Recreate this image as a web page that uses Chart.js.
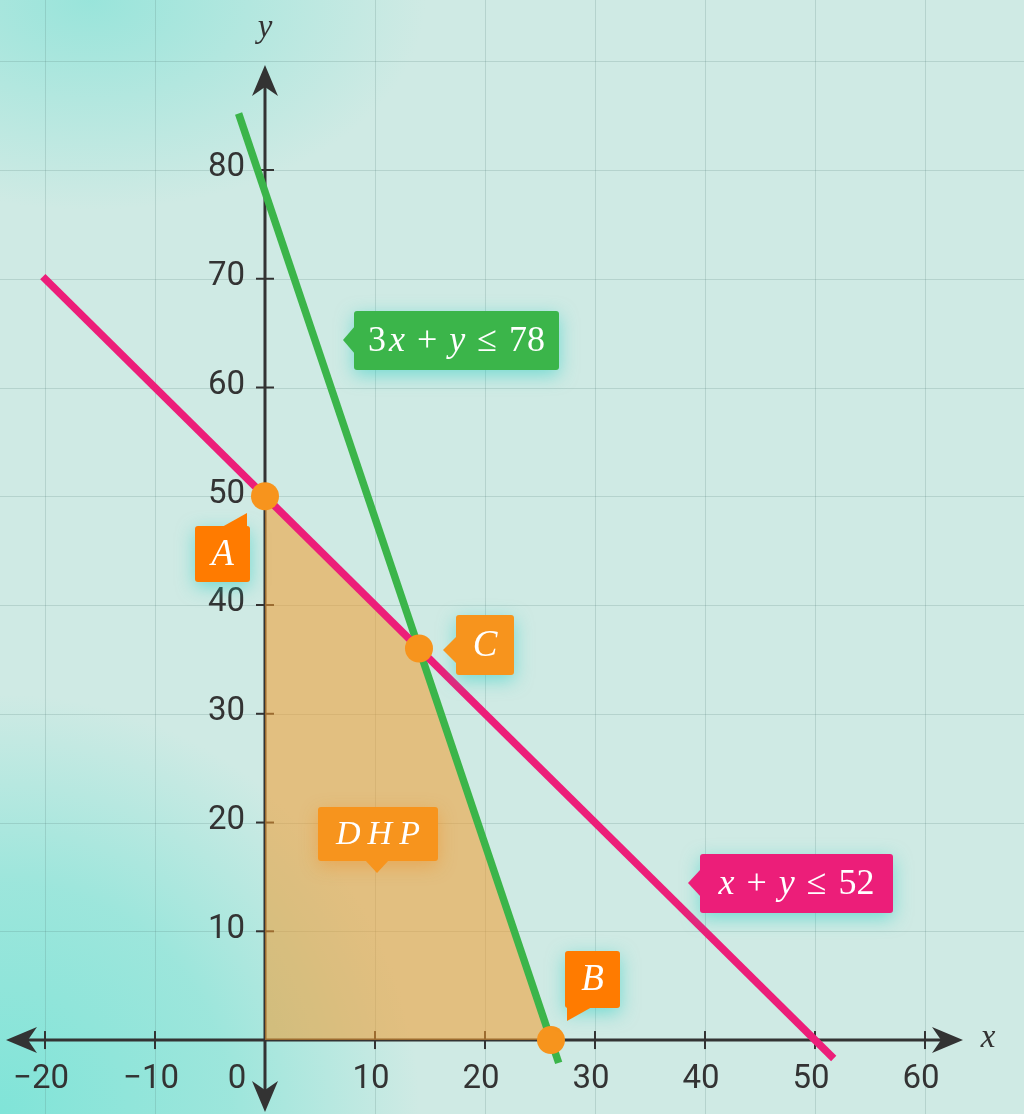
<!DOCTYPE html>
<html>
<head>
<meta charset="utf-8">
<script src="https://cdn.jsdelivr.net/npm/chart.js@4"></script>
<style>
  html, body { margin: 0; padding: 0; background: #cfeae4; }
  #wrap { width: 1024px; height: 1114px; }
</style>
</head>
<body>
<div id="wrap"><canvas id="c" width="1024" height="1114"></canvas></div>
<script>
// data
var xTicks = [-20, -10, 10, 20, 30, 40, 50, 60];
var yTicks = [10, 20, 30, 40, 50, 60, 70, 80];
var gridX = [-20, -10, 10, 20, 30, 40, 50, 60];
var gridY = [10, 20, 30, 40, 50, 60, 70, 80, 90];
var pinkLine = [{x: -20.2, y: 70.2}, {x: 51.7, y: -1.7}];   // drawn as x + y = 50
var greenLine = [{x: -2.4, y: 85.2}, {x: 26.7, y: -2.1}];   // 3x + y = 78
var region = [{x: 0, y: 0}, {x: 0, y: 50}, {x: 14, y: 36}, {x: 26, y: 0}];
var corners = [{x: 0, y: 50}, {x: 26, y: 0}, {x: 14, y: 36}];
var cornerNames = ['A', 'B', 'C'];

var AXIS = '#333333';
var SERIF = '"Liberation Serif", "DejaVu Serif", serif';

function fontFor(italic, size) {
    return (italic ? 'italic ' : 'normal ') + 'normal ' + size + 'px ' + SERIF;
}

function drawParts(ctx, parts, cx, cy, size, spacing) {
    spacing = spacing || 0;
    var total = 0, widths = [];
    parts.forEach(function (p) {
        ctx.font = fontFor(p[1], size);
        var w = ctx.measureText(p[0]).width;
        widths.push(w);
        total += w;
    });
    total += spacing * (parts.length - 1);
    var x = cx - total / 2;
    ctx.textAlign = 'left';
    ctx.textBaseline = 'middle';
    parts.forEach(function (p, i) {
        ctx.font = fontFor(p[1], size);
        ctx.fillText(p[0], x, cy);
        x += widths[i] + spacing;
    });
}

function callout(ctx, box, tri, color, glow, parts, size, spacing) {
    ctx.save();
    ctx.shadowColor = glow;
    ctx.shadowBlur = 18;
    ctx.shadowOffsetY = 5;
    ctx.fillStyle = color;
    ctx.beginPath();
    ctx.roundRect(box[0], box[1], box[2] - box[0], box[3] - box[1], 3);
    ctx.fill();
    ctx.shadowColor = 'transparent';
    ctx.beginPath();
    ctx.moveTo(tri[0][0], tri[0][1]);
    ctx.lineTo(tri[1][0], tri[1][1]);
    ctx.lineTo(tri[2][0], tri[2][1]);
    ctx.closePath();
    ctx.fill();
    ctx.fillStyle = '#ffffff';
    drawParts(ctx, parts, (box[0] + box[2]) / 2, (box[1] + box[3]) / 2 + 1, size, spacing);
    ctx.restore();
}

var backdrop = {
    id: 'backdrop',
    beforeDatasetsDraw: function (chart) {
        var ctx = chart.ctx, xs = chart.scales.x, ys = chart.scales.y;
        var W = chart.width, H = chart.height;
        ctx.save();
        ctx.fillStyle = '#cfeae4';
        ctx.fillRect(0, 0, W, H);
        // soft glow, top-left
        ctx.save();
        ctx.translate(90, 0);
        ctx.scale(1.6, 1);
        var g = ctx.createRadialGradient(0, 0, 0, 0, 0, 210);
        g.addColorStop(0, 'rgba(150,228,218,0.95)');
        g.addColorStop(1, 'rgba(150,228,218,0)');
        ctx.fillStyle = g;
        ctx.fillRect(-200, 0, 600, 260);
        ctx.restore();
        // glow, bottom-left
        g = ctx.createRadialGradient(0, H, 0, 0, H, 420);
        g.addColorStop(0, 'rgba(128,228,216,1)');
        g.addColorStop(0.55, 'rgba(135,228,216,0.7)');
        g.addColorStop(1, 'rgba(135,228,216,0)');
        ctx.fillStyle = g;
        ctx.fillRect(0, 0, W, H);

        // grid
        ctx.strokeStyle = 'rgba(80,120,115,0.2)';
        ctx.lineWidth = 1;
        gridX.forEach(function (v) {
            var px = Math.round(xs.getPixelForValue(v)) + 0.5;
            ctx.beginPath(); ctx.moveTo(px, 0); ctx.lineTo(px, H); ctx.stroke();
        });
        gridY.forEach(function (v) {
            var py = Math.round(ys.getPixelForValue(v)) + 0.5;
            ctx.beginPath(); ctx.moveTo(0, py); ctx.lineTo(W, py); ctx.stroke();
        });

        // axes
        var x0 = xs.getPixelForValue(0), y0 = ys.getPixelForValue(0);
        ctx.strokeStyle = AXIS;
        ctx.fillStyle = AXIS;
        ctx.lineWidth = 3;
        ctx.beginPath(); ctx.moveTo(20, y0); ctx.lineTo(950, y0); ctx.stroke();
        ctx.beginPath(); ctx.moveTo(x0, 80); ctx.lineTo(x0, 1098); ctx.stroke();
        function arrow(tx, ty, dx, dy) {
            var nx = -dy, ny = dx;
            ctx.beginPath();
            ctx.moveTo(tx, ty);
            ctx.lineTo(tx - dx * 31 + nx * 13, ty - dy * 31 + ny * 13);
            ctx.lineTo(tx - dx * 22, ty - dy * 22);
            ctx.lineTo(tx - dx * 31 - nx * 13, ty - dy * 31 - ny * 13);
            ctx.closePath();
            ctx.fill();
        }
        arrow(963, y0, 1, 0);
        arrow(6, y0, -1, 0);
        arrow(x0, 65, 0, -1);
        arrow(x0, 1112, 0, 1);

        ctx.lineWidth = 2;
        xTicks.forEach(function (v) {
            var px = xs.getPixelForValue(v);
            ctx.beginPath(); ctx.moveTo(px, y0 - 9); ctx.lineTo(px, y0 + 9); ctx.stroke();
        });
        yTicks.forEach(function (v) {
            var py = ys.getPixelForValue(v);
            ctx.beginPath(); ctx.moveTo(x0 - 9, py); ctx.lineTo(x0 + 9, py); ctx.stroke();
        });

        // tick labels
        ctx.font = '33px Roboto, "Noto Sans", sans-serif';
        ctx.textBaseline = 'middle';
        ctx.textAlign = 'center';
        xTicks.forEach(function (v) {
            var t = v < 0 ? '\u2212' + Math.abs(v) : String(v);
            ctx.fillText(t, xs.getPixelForValue(v) - 4, y0 + 40);
        });
        ctx.fillText('0', x0 - 28, y0 + 40);
        ctx.textAlign = 'right';
        yTicks.forEach(function (v) {
            ctx.fillText(String(v), x0 - 20, ys.getPixelForValue(v) - 2);
        });

        // axis names
        ctx.textAlign = 'center';
        ctx.font = fontFor(true, 33);
        ctx.fillText('y', x0, 28);
        ctx.fillText('x', 988, y0 - 2);
        ctx.restore();
    },
    afterDatasetsDraw: function (chart) {
        var ctx = chart.ctx;
        var glow = 'rgba(40,205,195,0.55)';
        callout(ctx, [354, 311, 559, 370], [[343, 340], [355, 326], [355, 354]],
            '#3bb54a', glow,
            [['3', 0], ['x', 1], [' + ', 0], ['y', 1], [' \u2264 ', 0], ['78', 0]], 36, 3);
        callout(ctx, [700, 854, 893, 913], [[688, 883], [701, 869], [701, 897]],
            '#ec1e79', glow,
            [['x', 1], [' + ', 0], ['y', 1], [' \u2264 ', 0], ['52', 0]], 36, 3);
        callout(ctx, [195, 526, 250, 582], [[222, 527], [247, 513], [247, 527]],
            '#ff7b00', glow, [['A', 1]], 37);
        callout(ctx, [565, 951, 620, 1008], [[567, 1007], [567, 1021], [592, 1007]],
            '#ff7b00', glow, [['B', 1]], 37);
        callout(ctx, [456, 615, 514, 675], [[443, 650], [457, 636], [457, 664]],
            '#f7941d', glow, [['C', 1]], 37);
        callout(ctx, [318, 807, 438, 861], [[365, 860], [377, 873], [389, 860]],
            '#f7941d', 'rgba(240,140,30,0.45)', [['D', 1], ['H', 1], ['P', 1]], 34, 7);
    }
};

new Chart(document.getElementById('c'), {
    type: 'line',
    data: {
        datasets: [{
            label: 'region',
            data: region,
            fill: 'origin',
            backgroundColor: 'rgba(242,155,45,0.55)',
            borderWidth: 0,
            pointRadius: 0,
            order: 3
        }, {
            label: 'x + y <= 52',
            data: pinkLine,
            borderColor: '#ec1e79',
            borderWidth: 7.5,
            borderCapStyle: 'butt',
            pointRadius: 0,
            fill: false,
            order: 2
        }, {
            label: '3x + y <= 78',
            data: greenLine,
            borderColor: '#3bb54a',
            borderWidth: 7.5,
            borderCapStyle: 'butt',
            pointRadius: 0,
            fill: false,
            order: 2
        }, {
            label: 'corners',
            data: corners,
            showLine: false,
            pointRadius: 14,
            pointHoverRadius: 14,
            pointBackgroundColor: '#f7941d',
            pointBorderWidth: 0,
            order: 1
        }]
    },
    options: {
        responsive: false,
        maintainAspectRatio: false,
        animation: false,
        layout: { padding: 0, autoPadding: false },
        plugins: { legend: { display: false }, tooltip: { enabled: false } },
        scales: {
            x: { type: 'linear', min: -24.09, max: 69.0, display: false },
            y: { type: 'linear', min: -6.8, max: 95.63, display: false }
        }
    },
    plugins: [backdrop]
});
</script>
</body>
</html>
